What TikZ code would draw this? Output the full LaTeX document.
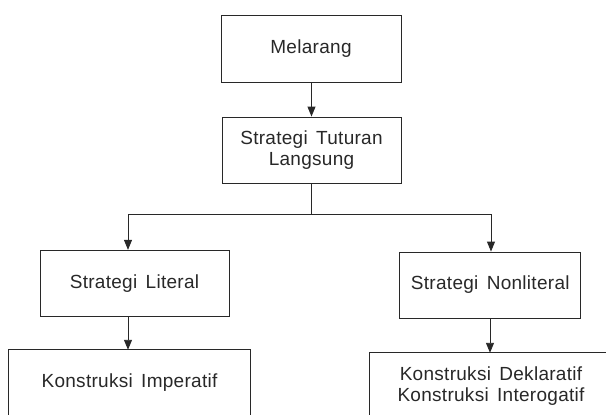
\documentclass[tikz,border=0pt]{standalone}
\usepackage{fontspec}
\setmainfont{Liberation Sans}[LetterSpace=1.5,WordSpace=1.5]
\usetikzlibrary{arrows.meta}
\definecolor{ink}{RGB}{40,40,40}
\tikzset{
  box/.style={draw=ink, line width=0.9pt, rectangle, inner sep=0pt, align=center, text=ink, font=\fontsize{19}{20.5}\selectfont},
  openbox/.style={draw=none, rectangle, inner sep=0pt, align=center, text=ink, font=\fontsize{19}{21}\selectfont},
  conn/.style={draw=ink, line width=0.9pt},
  arr/.style={conn, -{Triangle[length=10pt,width=8pt]}}
}
\begin{document}
\begin{tikzpicture}[x=1pt,y=-1pt]
\useasboundingbox (0,0) rectangle (606,415);
\clip (0,0) rectangle (606,415);
\node[box, minimum width=180pt, minimum height=67pt] (m) at (311,48.5) {Melarang};
\node[box, minimum width=179pt, minimum height=66pt] (s) at (311.5,150) {Strategi Tuturan\\Langsung};
\node[box, minimum width=189pt, minimum height=66pt] (sl) at (134.5,283.3) {Strategi Literal};
\node[box, minimum width=181pt, minimum height=66pt] (sn) at (490.3,285) {Strategi Nonliteral};
\node[openbox, minimum width=241pt, minimum height=66pt] (ki) at (129.5,383) {Konstruksi Imperatif};
\node[openbox, minimum width=242pt, minimum height=66pt] (kd) at (491,386) {Konstruksi Deklaratif\\Konstruksi Interogatif};
\draw[conn] (ki.south west) |- (ki.north east) -- (ki.south east);
\draw[conn] (kd.south west) |- (kd.north east) -- (kd.south east);
\coordinate (jl) at (128,214);
\coordinate (jr) at (491,214);
\draw[arr] (m.south -| s.north) -- (s.north);
\draw[conn] (s.south) -- (s.south |- jl);
\draw[conn] (jl) -- (jr);
\draw[arr] (jl) -- (jl |- sl.north);
\draw[arr] (jr) -- (jr |- sn.north);
\draw[arr] (jl |- sl.south) -- (jl |- ki.north);
\draw[arr] (490,0 |- sn.south) -- (490,0 |- kd.north);
\end{tikzpicture}
\end{document}
